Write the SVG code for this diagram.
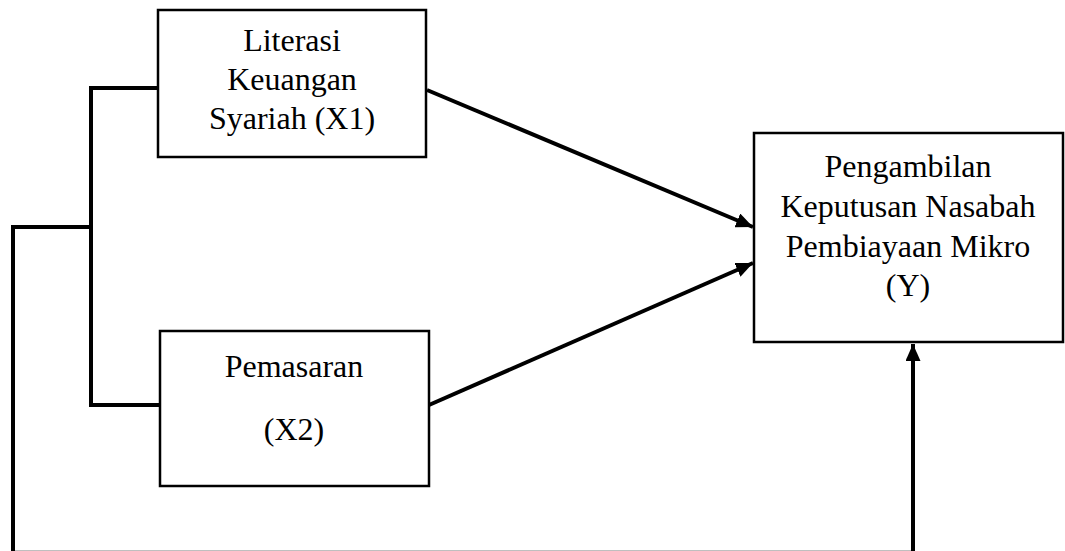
<svg xmlns="http://www.w3.org/2000/svg" width="1065" height="551" viewBox="0 0 1065 551">
<style>
.box{fill:#fff;stroke:#000;stroke-width:2.5}
.t{font-family:"Liberation Serif","Times New Roman",serif;font-size:32px;fill:#000;text-anchor:middle}
.c{fill:none;stroke:#000;stroke-width:4}
</style>
<defs>
<marker id="ah2" markerWidth="17" markerHeight="15" refX="17" refY="7.5" orient="auto" markerUnits="userSpaceOnUse" viewBox="0 0 17 15">
<path d="M0,0 L17,7.5 L0,15 z" fill="#000"/>
</marker>
</defs>
<rect width="1065" height="551" fill="#fff"/>
<g id="connectors">
<path class="c" d="M158,88 H91 V405 H160"/>
<path class="c" d="M91,227 H13 V552.8 H913 V344" marker-end="url(#ah2)"/>
<line class="c" x1="427" y1="90" x2="753" y2="227" marker-end="url(#ah2)"/>
<line class="c" x1="429" y1="405" x2="753" y2="263" marker-end="url(#ah2)"/>
</g>
<g id="x1">
<rect class="box" x="158" y="10" width="268" height="147"/>
<text class="t" x="292" y="51">Literasi</text>
<text class="t" x="292" y="90">Keuangan</text>
<text class="t" x="292" y="129">Syariah (X1)</text>
</g>
<g id="x2">
<rect class="box" x="160" y="331" width="269" height="155"/>
<text class="t" x="294" y="377">Pemasaran</text>
<text class="t" x="294" y="440">(X2)</text>
</g>
<g id="y">
<rect class="box" x="754" y="133" width="309" height="209"/>
<text class="t" x="908" y="177">Pengambilan</text>
<text class="t" x="908" y="217">Keputusan Nasabah</text>
<text class="t" x="908" y="257">Pembiayaan Mikro</text>
<text class="t" x="908" y="296">(Y)</text>
</g>
</svg>
